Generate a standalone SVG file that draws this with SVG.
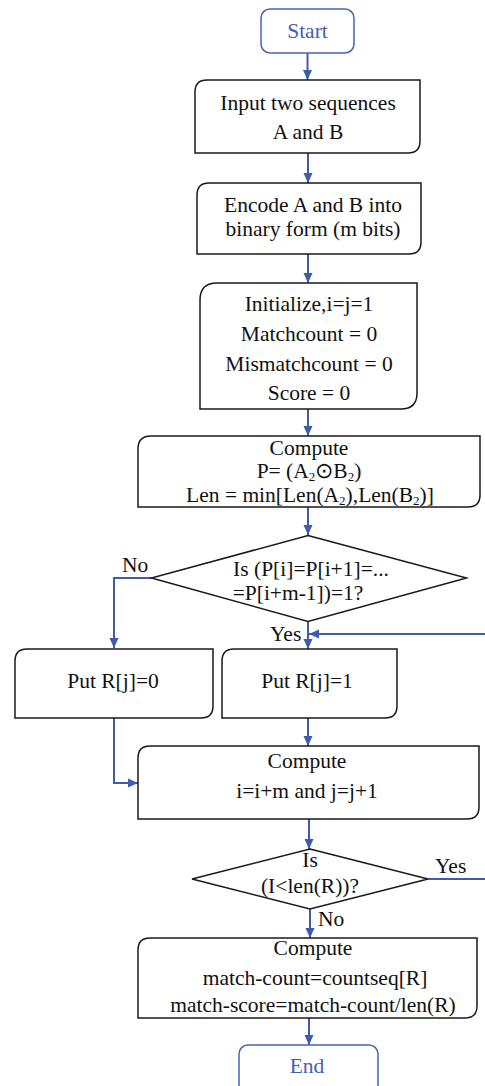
<svg xmlns="http://www.w3.org/2000/svg" width="485" height="1086" viewBox="0 0 485 1086">
<style>
  .box { fill: #ffffff; stroke: #1a1a1a; stroke-width: 1.5; }
  .term { fill: #ffffff; stroke: #4763b3; stroke-width: 1.5; }
  .t { font-family: "Liberation Serif", "Times New Roman", serif; font-size: 21.5px; fill: #111111; text-anchor: middle; }
  .tb { font-family: "Liberation Serif", "Times New Roman", serif; font-size: 21.5px; fill: #4460b0; text-anchor: middle; }
  .lbl { font-family: "Liberation Serif", "Times New Roman", serif; font-size: 21.5px; fill: #111111; }
  .c { fill: none; stroke: #3f5bab; stroke-width: 2; }
  .sub { font-size: 13px; }
</style>
<defs>
  <marker id="ah" markerUnits="userSpaceOnUse" markerWidth="10" markerHeight="10" viewBox="0 0 10 10" refX="10" refY="5" orient="auto">
    <path d="M0,0.5 L10,5 L0,9.5 Z" fill="#3f5bab"/>
  </marker>
</defs>

<g id="connectors">
  <line class="c" x1="307.5" y1="53" x2="307.5" y2="80" marker-end="url(#ah)"/>
  <line class="c" x1="308" y1="153" x2="308" y2="183" marker-end="url(#ah)"/>
  <line class="c" x1="308" y1="254" x2="308" y2="283" marker-end="url(#ah)"/>
  <line class="c" x1="308" y1="409" x2="308" y2="436" marker-end="url(#ah)"/>
  <line class="c" x1="308" y1="507" x2="308" y2="535" marker-end="url(#ah)"/>
  <polyline class="c" points="152,578 114,578 114,648" marker-end="url(#ah)"/>
  <line class="c" x1="308" y1="622" x2="308" y2="649" marker-end="url(#ah)"/>
  <line class="c" x1="485" y1="634" x2="309" y2="634" marker-end="url(#ah)"/>
  <polyline class="c" points="114,718 114,783 138,783" marker-end="url(#ah)"/>
  <line class="c" x1="308" y1="718" x2="308" y2="746" marker-end="url(#ah)"/>
  <line class="c" x1="309" y1="819" x2="309" y2="849" marker-end="url(#ah)"/>
  <line class="c" x1="428" y1="879" x2="485" y2="879"/>
  <line class="c" x1="310" y1="909" x2="310" y2="938" marker-end="url(#ah)"/>
  <line class="c" x1="309" y1="1018" x2="309" y2="1045" marker-end="url(#ah)"/>
</g>

<g id="start">
  <rect class="term" x="261" y="9" width="93" height="44" rx="9"/>
  <text class="tb" x="307.5" y="38">Start</text>
</g>

<g id="input">
  <path class="box" d="M207,80 H420 V141 Q420,153 408,153 H195 V92 Q195,80 207,80 Z"/>
  <text class="t" x="308" y="110">Input two sequences</text>
  <text class="t" x="308" y="139">A and B</text>
</g>

<g id="encode">
  <path class="box" d="M209,183 H421 V242 Q421,254 409,254 H197 V195 Q197,183 209,183 Z"/>
  <text class="t" x="313" y="212">Encode A and B into</text>
  <text class="t" x="313" y="236">binary form (m bits)</text>
</g>

<g id="init">
  <path class="box" d="M217,283 H417 V393 Q417,409 401,409 H200 V300 Q200,283 217,283 Z"/>
  <text class="t" x="309" y="311">Initialize,i=j=1</text>
  <text class="t" x="309" y="341">Matchcount = 0</text>
  <text class="t" x="309" y="371">Mismatchcount = 0</text>
  <text class="t" x="309" y="400">Score = 0</text>
</g>

<g id="compute1">
  <path class="box" d="M151,436 H480 V495 Q480,507 468,507 H138 V449 Q138,436 151,436 Z"/>
  <text class="t" x="309" y="455">Compute</text>
  <text class="t" x="309" y="478">P= (A<tspan class="sub" dy="3">2</tspan><tspan dy="-3">⊙B</tspan><tspan class="sub" dy="3">2</tspan><tspan dy="-3">)</tspan></text>
  <text class="t" x="310" y="502">Len = min[Len(A<tspan class="sub" dy="3">2</tspan><tspan dy="-3">),Len(B</tspan><tspan class="sub" dy="3">2</tspan><tspan dy="-3">)]</tspan></text>
</g>

<g id="decision1">
  <polygon class="box" points="308,535.5 466.5,578 308,621.5 151.5,578"/>
  <text class="t" x="311" y="576">Is (P[i]=P[i+1]=...</text>
  <text class="t" x="298" y="600">=P[i+m-1])=1?</text>
  <text class="lbl" x="122" y="572">No</text>
  <text class="lbl" x="270" y="641">Yes</text>
</g>

<g id="put0">
  <path class="box" d="M27,649 H213 V706 Q213,718 201,718 H15 V661 Q15,649 27,649 Z"/>
  <text class="t" x="113" y="688">Put R[j]=0</text>
</g>

<g id="put1">
  <path class="box" d="M234,649 H397 V706 Q397,718 385,718 H222 V661 Q222,649 234,649 Z"/>
  <text class="t" x="307" y="688">Put R[j]=1</text>
</g>

<g id="compute2">
  <path class="box" d="M150,746 H479 V807 Q479,819 467,819 H138 V758 Q138,746 150,746 Z"/>
  <text class="t" x="307" y="768">Compute</text>
  <text class="t" x="307" y="798">i=i+m and j=j+1</text>
</g>

<g id="decision2">
  <polygon class="box" points="310,849 428,879 310,909 192,879"/>
  <text class="t" x="310" y="867">Is</text>
  <text class="t" x="310" y="893">(I&lt;len(R))?</text>
  <text class="lbl" x="435" y="873">Yes</text>
  <text class="lbl" x="318" y="926">No</text>
</g>

<g id="compute3">
  <path class="box" d="M150,938 H477 V1006 Q477,1018 465,1018 H138 V950 Q138,938 150,938 Z"/>
  <text class="t" x="313" y="955">Compute</text>
  <text class="t" x="315" y="985">match-count=countseq[R]</text>
  <text class="t" x="313" y="1012">match-score=match-count/len(R)</text>
</g>

<g id="end">
  <rect class="term" x="239" y="1045" width="139" height="60" rx="9"/>
  <text class="tb" x="307" y="1073">End</text>
</g>
</svg>
